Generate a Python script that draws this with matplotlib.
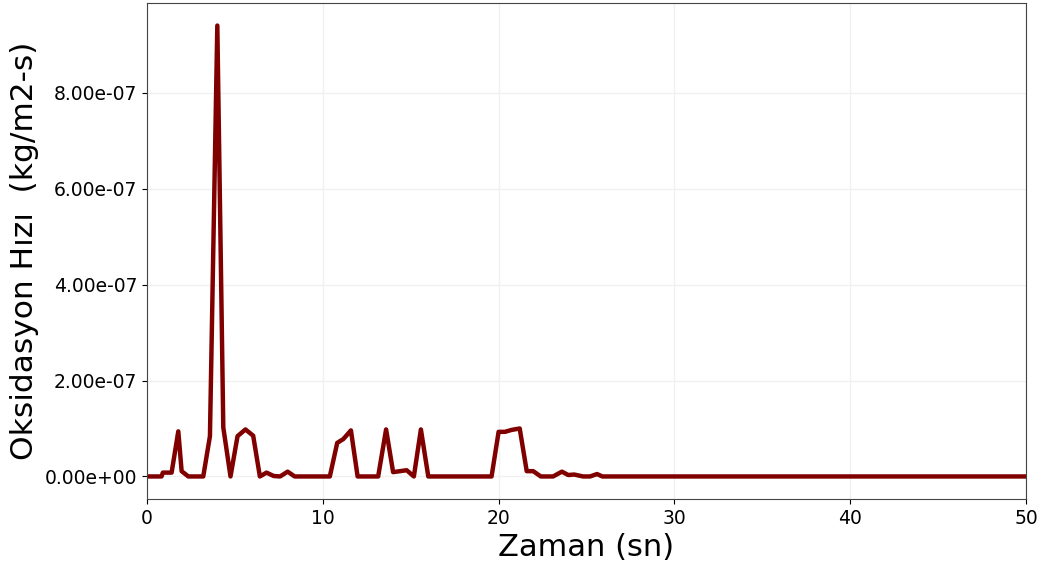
import numpy as np
import matplotlib.pyplot as plt
from matplotlib.ticker import FormatStrFormatter

# oxidation rate vs time
zaman = [0.0, 0.83, 0.9, 1.4, 1.78, 1.97, 2.35, 3.2, 3.58, 4.0, 4.34, 4.75,
         5.15, 5.6, 6.04, 6.42, 6.8, 7.2, 7.57, 8.0, 8.4, 10.4, 10.82, 11.17,
         11.6, 11.98, 13.15, 13.6, 14.0, 14.77, 15.18, 15.58, 16.0, 19.6,
         20.0, 20.36, 20.74, 21.2, 21.6, 21.97, 22.4, 23.1, 23.6, 23.96,
         24.3, 24.8, 25.2, 25.6, 25.9, 50.0]
hiz = [0.0, 0.0, 0.08, 0.08, 0.94, 0.11, 0.0, 0.0, 0.84, 9.4, 1.02, 0.0,
       0.84, 0.98, 0.85, 0.0, 0.08, 0.01, 0.0, 0.1, 0.0, 0.0, 0.7, 0.78,
       0.96, 0.0, 0.0, 0.98, 0.09, 0.13, 0.0, 0.98, 0.0, 0.0,
       0.93, 0.93, 0.97, 1.0, 0.11, 0.11, 0.0, 0.0, 0.1, 0.03,
       0.04, 0.0, 0.0, 0.05, 0.0, 0.0]
hiz = np.array(hiz) * 1e-7

fig = plt.figure(figsize=(10.45, 5.69), dpi=100)
ax = fig.add_axes([147 / 1045, 1 - 499 / 569, 879 / 1045, 496 / 569])

ax.plot(zaman, hiz, color='#800000', linewidth=3.2)
ax.set_xlim(0, 50)
ax.grid(True, color='#f0f0f0', linewidth=1)
ax.set_axisbelow(True)
ax.yaxis.set_major_formatter(FormatStrFormatter('%.2e'))
ax.tick_params(labelsize=13.5, colors='black')
for s in ax.spines.values():
    s.set_color('#444444')
ax.set_xlabel('Zaman (sn)', fontsize=22)
ax.set_ylabel('Oksidasyon Hızı  (kg/m2-s)', fontsize=22.5)

fig.savefig('out.png', dpi=100)
